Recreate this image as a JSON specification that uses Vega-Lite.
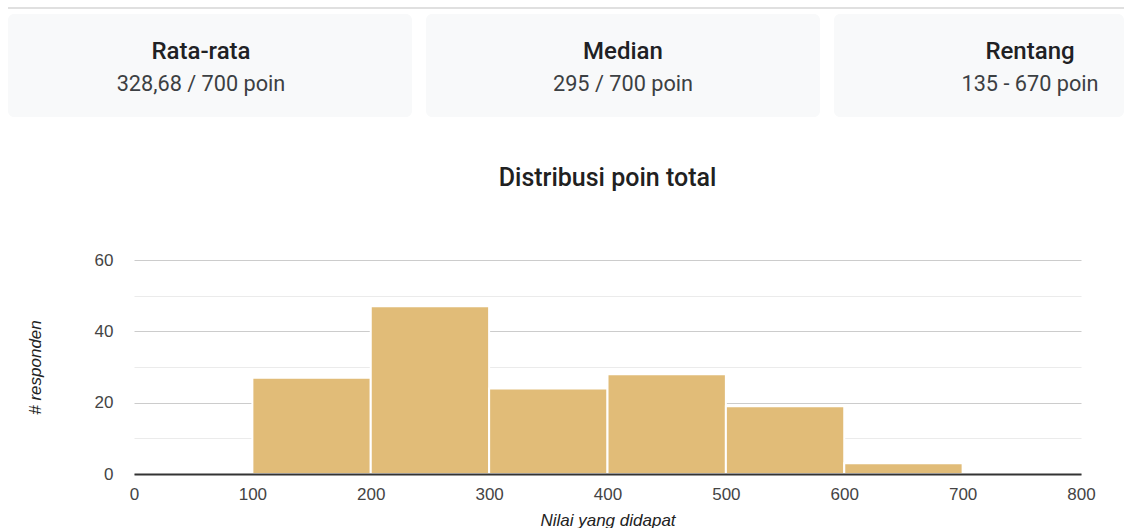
{
  "$schema": "https://vega.github.io/schema/vega-lite/v6.json",
  "padding": {"left": 8, "top": 7, "right": 0, "bottom": 0},
  "background": "white",
  "config": {"font": "Roboto", "view": {"stroke": null}},
  "spacing": 49,
  "vconcat": [
    {
      "spacing": 5,
      "vconcat": [
        {
          "width": 1116, "height": 2,
          "view": {"fill": "#e0e0e0", "stroke": null},
          "data": {"values": [{"t": ""}]},
          "mark": {"type": "text", "fontSize": 0},
          "encoding": {"text": {"field": "t"}}
        },
        {
          "spacing": 14,
          "hconcat": [
            {
              "width": 404, "height": 103,
              "view": {"fill": "#f8f9fa", "stroke": null, "cornerRadius": 6},
              "data": {"values": [{"label": "Rata-rata", "value": "328,68 / 700 poin"}]},
              "layer": [
                {"mark": {"type": "text", "font": "Roboto", "fontSize": 24, "fontWeight": 500, "color": "#202124", "dy": -14, "dx": -9, "baseline": "middle"}, "encoding": {"text": {"field": "label"}}},
                {"mark": {"type": "text", "font": "Roboto", "fontSize": 21.7, "color": "#3c4043", "dy": 18, "dx": -9, "baseline": "middle"}, "encoding": {"text": {"field": "value"}}}
              ]
            },
            {
              "width": 394, "height": 103,
              "view": {"fill": "#f8f9fa", "stroke": null, "cornerRadius": 6},
              "data": {"values": [{"label": "Median", "value": "295 / 700 poin"}]},
              "layer": [
                {"mark": {"type": "text", "font": "Roboto", "fontSize": 24, "fontWeight": 500, "color": "#202124", "dy": -14, "baseline": "middle"}, "encoding": {"text": {"field": "label"}}},
                {"mark": {"type": "text", "font": "Roboto", "fontSize": 21.7, "color": "#3c4043", "dy": 18, "baseline": "middle"}, "encoding": {"text": {"field": "value"}}}
              ]
            },
            {
              "width": 290, "height": 103,
              "view": {"fill": "#f8f9fa", "stroke": null, "cornerRadius": 6},
              "data": {"values": [{"label": "Rentang", "value": "135 - 670 poin"}]},
              "layer": [
                {"mark": {"type": "text", "font": "Roboto", "fontSize": 24, "fontWeight": 500, "color": "#202124", "dy": -14, "dx": 51, "baseline": "middle"}, "encoding": {"text": {"field": "label"}}},
                {"mark": {"type": "text", "font": "Roboto", "fontSize": 21.7, "color": "#3c4043", "dy": 18, "dx": 51, "baseline": "middle"}, "encoding": {"text": {"field": "value"}}}
              ]
            }
          ]
        }
      ]
    },
    {
      "width": 1073, "height": 214,
      "title": {"text": "Distribusi poin total", "anchor": "middle", "dx": 63, "font": "Roboto", "fontSize": 25, "fontWeight": 500, "color": "#212121", "offset": 35, "baseline": "bottom"},
      "data": {"values": [
        {"start": 100, "end": 200, "count": 27},
        {"start": 200, "end": 300, "count": 47},
        {"start": 300, "end": 400, "count": 24},
        {"start": 400, "end": 500, "count": 28},
        {"start": 500, "end": 600, "count": 19},
        {"start": 600, "end": 700, "count": 3}
      ]},
      "mark": {"type": "rect", "color": "#e1bc78", "stroke": "white", "strokeWidth": 2},
      "encoding": {
        "x": {
          "field": "start", "type": "quantitative",
          "scale": {"domain": [0, 800], "range": [126, 1073], "nice": false, "zero": false},
          "axis": {
            "values": [0, 100, 200, 300, 400, 500, 600, 700, 800],
            "title": "Nilai yang didapat", "grid": false, "ticks": false,
            "domainColor": "#333333", "domainWidth": 2, "zindex": 1,
            "labelFont": "Liberation Sans", "labelFontSize": 17, "labelColor": "#444444", "labelPadding": 12, "labelFlush": false,
            "titleFont": "Liberation Sans", "titleFontSize": 17, "titleFontStyle": "italic", "titleFontWeight": "normal", "titleColor": "#222222", "titlePadding": 10
          }
        },
        "x2": {"field": "end"},
        "y": {
          "field": "count", "type": "quantitative",
          "scale": {"domain": [0, 60], "nice": false},
          "axis": {
            "offset": -126,
            "values": [0, 10, 20, 30, 40, 50, 60],
            "labelExpr": "datum.value % 20 === 0 ? datum.label : ''",
            "gridColor": {"condition": {"test": "datum.value % 20 === 0", "value": "#cccccc"}, "value": "#ebebeb"},
            "domain": false, "ticks": false,
            "labelFont": "Liberation Sans", "labelFontSize": 17, "labelColor": "#444444", "labelPadding": 21,
            "title": "# responden",
            "titleFont": "Liberation Sans", "titleFontSize": 17, "titleFontStyle": "italic", "titleFontWeight": "normal", "titleColor": "#222222", "titlePadding": 50
          }
        },
        "y2": {"datum": 0}
      }
    }
  ]
}
